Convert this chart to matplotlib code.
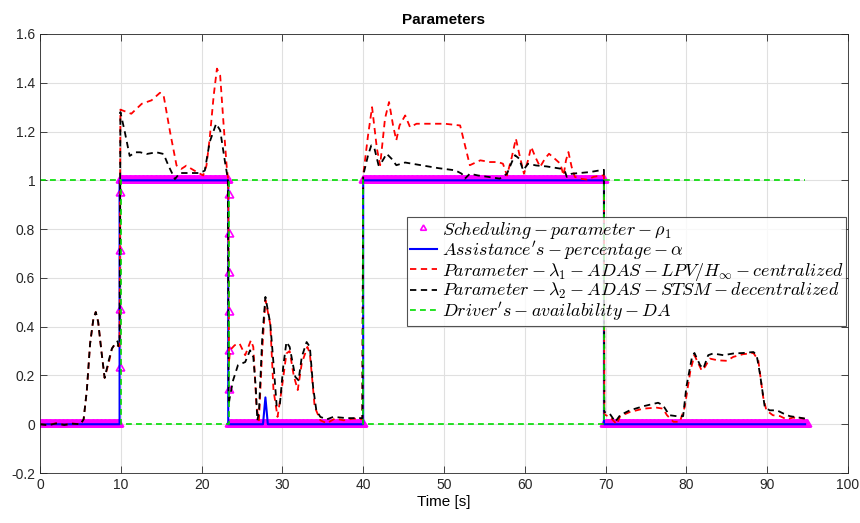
import numpy as np
import matplotlib
matplotlib.use('Agg')
from matplotlib import pyplot as plt

plt.rcParams['font.family'] = ['Liberation Sans', 'DejaVu Sans']
plt.rcParams['mathtext.fontset'] = 'cm'

# scheduling parameter rho_1: flat segments (start, end, level) + ramp samples
rho_flat = [(0.0, 9.8, 0.0), (9.9, 23.3, 1.0), (23.4, 40.0, 0.0),
            (40.0, 69.8, 1.0), (69.85, 95.0, 0.0)]
rho_ramp_t = [9.85, 9.85, 9.85, 9.85, 23.35, 23.35, 23.35, 23.35, 23.35, 23.35]
rho_ramp_v = [0.23, 0.47, 0.71, 0.95, 0.94, 0.78, 0.62, 0.46, 0.30, 0.14]

# assistance percentage alpha
alpha_t = [0, 9.85, 9.85, 23.3, 23.3, 27.6, 27.9, 28.2, 40.0, 40.0, 69.8, 69.8, 94.7]
alpha_v = [0, 0, 1, 1, 0, 0, 0.11, 0, 0, 1, 1, 0, 0]

# lambda_1 (LPV/Hinf centralized)
l1_t = [0, 1, 2, 3, 4, 5, 5.4, 5.8, 6.2, 6.6, 6.9, 7.2, 7.6, 8.0, 8.5, 8.9, 9.3, 9.7,
        9.85, 9.95, 11.3, 12.6, 13.8, 14.85, 15.3, 16.1, 16.9, 17.5, 18.1, 19.1, 20.2,
        20.6, 21.0, 21.5, 21.9, 22.3, 22.7, 23.1, 23.3, 23.4, 23.5, 24.1, 24.7, 25.4,
        26.1, 26.4, 26.8, 27.1, 27.5, 27.9, 28.5, 28.9, 29.4, 29.9, 30.5, 30.9, 31.4,
        31.9, 32.4, 33.1, 33.4, 34.0, 34.7, 35.5, 36.5, 37.6, 38.8, 39.9, 40.0, 40.6,
        41.1, 41.7, 42.1, 42.7, 43.2, 43.7, 44.1, 44.5, 45.2, 45.8, 46.6, 48.1, 50.1,
        52.0, 52.6, 53.2, 53.6, 54.5, 55.7, 56.7, 57.3, 57.8, 58.4, 58.9, 59.4, 59.9,
        60.4, 60.8, 61.3, 61.9, 62.5, 63.0, 63.7, 64.4, 64.8, 65.1, 65.4, 65.8, 66.2,
        66.8, 67.7, 68.5, 69.5, 69.8, 69.85, 70.5, 71.4, 71.8, 73.0, 74.7, 76.3, 77.1,
        77.6, 78.4, 79.2, 79.8, 80.5, 81.0, 81.9, 82.3, 82.9, 83.9, 85.0, 85.8, 87.0,
        88.3, 88.9, 89.5, 89.9, 90.7, 91.6, 92.4, 93.2, 94.6]
l1_v = [0.0, -0.003, 0.004, -0.002, 0.003, 0.0, 0.02, 0.14, 0.33, 0.43, 0.46, 0.42,
        0.30, 0.19, 0.25, 0.31, 0.33, 0.32, 0.32, 1.29, 1.273, 1.314, 1.328, 1.359,
        1.348, 1.198, 1.061, 1.047, 1.06, 1.04, 1.02, 1.06, 1.171, 1.348, 1.458, 1.43,
        1.24, 1.06, 1.0, 0.25, 0.303, 0.324, 0.331, 0.283, 0.344, 0.317, 0.071, 0.016,
        0.30, 0.51, 0.41, 0.14, 0.03, 0.14, 0.29, 0.30, 0.20, 0.14, 0.25, 0.317, 0.29,
        0.071, 0.016, 0.004, 0.023, 0.016, 0.023, 0.02, 1.02, 1.184, 1.30, 1.13, 1.062,
        1.253, 1.321, 1.225, 1.164, 1.225, 1.266, 1.218, 1.232, 1.232, 1.232, 1.225,
        1.143, 1.062, 1.068, 1.082, 1.075, 1.075, 1.068, 1.02, 1.096, 1.171, 1.096,
        1.027, 1.082, 1.137, 1.096, 1.055, 1.089, 1.109, 1.089, 1.068, 1.02, 1.082,
        1.116, 1.055, 1.014, 1.007, 1.003, 1.014, 1.02, 1.02, 0.04, 0.03, 0.0, 0.033,
        0.05, 0.064, 0.068, 0.064, 0.037, 0.01, 0.01, 0.071, 0.22, 0.283, 0.22, 0.235,
        0.269, 0.262, 0.26, 0.276, 0.287, 0.292, 0.262, 0.112, 0.057, 0.037, 0.033,
        0.02, 0.027, 0.023]

# lambda_2 (STSM decentralized)
l2_t = [0, 1, 2, 3, 4, 5, 5.4, 5.8, 6.2, 6.6, 6.9, 7.2, 7.6, 8.0, 8.5, 8.9, 9.3, 9.6,
        9.7, 9.85, 9.95, 10.5, 11.1, 11.8, 12.4, 13.2, 14.4, 15.3, 15.9, 16.7, 17.3,
        18.6, 19.8, 20.4, 21.0, 21.8, 22.3, 22.9, 23.25, 23.35, 23.5, 23.9, 24.5, 25.4,
        26.0, 26.4, 26.7, 26.9, 27.1, 27.5, 27.9, 28.5, 28.9, 29.3, 29.7, 30.1, 30.5,
        30.9, 31.6, 32.0, 32.4, 33.0, 33.4, 33.8, 34.2, 34.7, 35.5, 36.3, 38.0, 39.9,
        40.0, 40.6, 41.0, 41.4, 41.9, 42.3, 42.9, 43.5, 44.1, 45.2, 47.2, 49.3, 51.4,
        52.2, 52.6, 53.2, 54.2, 55.5, 56.9, 57.8, 58.4, 58.8, 59.3, 59.8, 60.4, 61.4,
        62.7, 64.4, 65.0, 65.2, 65.8, 66.8, 68.1, 69.3, 69.8, 69.85, 70.5, 71.2, 71.8,
        73.0, 74.7, 76.5, 77.1, 77.9, 78.8, 79.6, 80.0, 80.7, 81.0, 81.7, 82.1, 82.7,
        83.3, 84.6, 85.8, 87.0, 88.3, 88.7, 89.1, 89.7, 90.3, 91.2, 92.0, 92.8, 94.0,
        94.7]
l2_v = [0.0, -0.004, 0.003, -0.003, 0.002, 0.0, 0.02, 0.14, 0.33, 0.43, 0.46, 0.42,
        0.30, 0.19, 0.26, 0.31, 0.33, 0.34, 0.32, 0.33, 1.28, 1.198, 1.10, 1.115, 1.115,
        1.108, 1.115, 1.108, 1.06, 1.005, 1.03, 1.03, 1.03, 1.04, 1.157, 1.232, 1.205,
        1.075, 1.006, 0.08, 0.112, 0.18, 0.242, 0.255, 0.303, 0.276, 0.153, 0.016, 0.05,
        0.35, 0.522, 0.413, 0.249, 0.071, 0.085, 0.235, 0.337, 0.317, 0.194, 0.18,
        0.276, 0.337, 0.317, 0.153, 0.057, 0.03, 0.02, 0.03, 0.025, 0.025, 1.02, 1.102,
        1.143, 1.13, 1.062, 1.075, 1.109, 1.089, 1.062, 1.073, 1.062, 1.05, 1.041,
        1.027, 1.007, 1.027, 1.02, 1.014, 1.007, 1.027, 1.075, 1.103, 1.089, 1.041,
        1.068, 1.061, 1.057, 1.048, 1.034, 1.014, 1.027, 1.03, 1.034, 1.041, 1.043,
        0.05, 0.044, 0.01, 0.037, 0.057, 0.074, 0.088, 0.078, 0.037, 0.033, 0.033,
        0.153, 0.276, 0.292, 0.242, 0.228, 0.283, 0.29, 0.283, 0.29, 0.292, 0.296,
        0.283, 0.208, 0.071, 0.057, 0.057, 0.044, 0.033, 0.027, 0.023]

# driver's availability DA
da_t = [0, 10.05, 10.05, 23.4, 23.4, 40.0, 40.0, 69.85, 69.85, 94.7]
da_v = [1, 1, 0, 0, 1, 1, 0, 0, 1, 1]

# sample the step signal for the triangle markers
rho_t = []
rho_v = []
for t0, t1, lev in rho_flat:
    ts = np.arange(t0, t1 + 1e-9, 0.1)
    rho_t.extend(ts)
    rho_v.extend([lev] * len(ts))
rho_t.extend(rho_ramp_t)
rho_v.extend(rho_ramp_v)

fig = plt.figure(figsize=(8.6, 5.23), dpi=100)
ax = fig.add_axes([0.0465, 0.0956, 0.9395, 0.8394])

dash = (0, (3.5, 2.5))
ax.plot(rho_t, rho_v, linestyle='none', marker=(3, 0, 0), markersize=7,
        mfc='none', mec='#ff00ff', mew=1.2,
        label=r'$Scheduling-parameter-\rho_1$')
ax.plot(alpha_t, alpha_v, color='#0000ff', lw=1.5,
        label=r"$Assistance's-percentage-\alpha$")
ax.plot(l1_t, l1_v, color='#ff0000', lw=1.3, linestyle=dash,
        label=r'$Parameter-\lambda_1-ADAS-LPV/H_\infty-centralized$')
ax.plot(l2_t, l2_v, color='black', lw=1.3, linestyle=dash,
        label=r'$Parameter-\lambda_2-ADAS-STSM-decentralized$')
ax.plot(da_t, da_v, color='#00dd00', lw=1.2, linestyle=dash,
        label=r"$Driver's-availability-DA$")

ax.set_xlim(0, 100)
ax.set_ylim(-0.2, 1.6)
ax.set_xticks(np.arange(0, 101, 10))
ax.set_yticks(np.arange(-0.2, 1.61, 0.2))
ax.set_yticklabels(['-0.2', '0', '0.2', '0.4', '0.6', '0.8', '1', '1.2', '1.4', '1.6'])
ax.grid(True, color='#e0e0e0', lw=0.8)
ax.set_axisbelow(True)
ax.tick_params(direction='in', length=5, width=0.6, labelsize=10, colors='#262626',
               top=True, right=True)
for s in ax.spines.values():
    s.set_color('#262626')
    s.set_linewidth(0.6)

ax.set_title('Parameters', fontsize=11, fontweight='bold', pad=7)
ax.set_xlabel('Time [s]', fontsize=11, labelpad=2)

leg = ax.legend(loc='upper left', bbox_to_anchor=(0.454, 0.583), fontsize=13,
                numpoints=1, handlelength=1.5, handletextpad=0.3, labelspacing=-0.08,
                borderpad=0.15, borderaxespad=0, frameon=True, fancybox=False)
leg.get_frame().set_edgecolor('#262626')
leg.get_frame().set_linewidth(0.8)
leg.legend_handles[0].set_markersize(5)

fig.savefig('out.png', dpi=100, facecolor='white')
